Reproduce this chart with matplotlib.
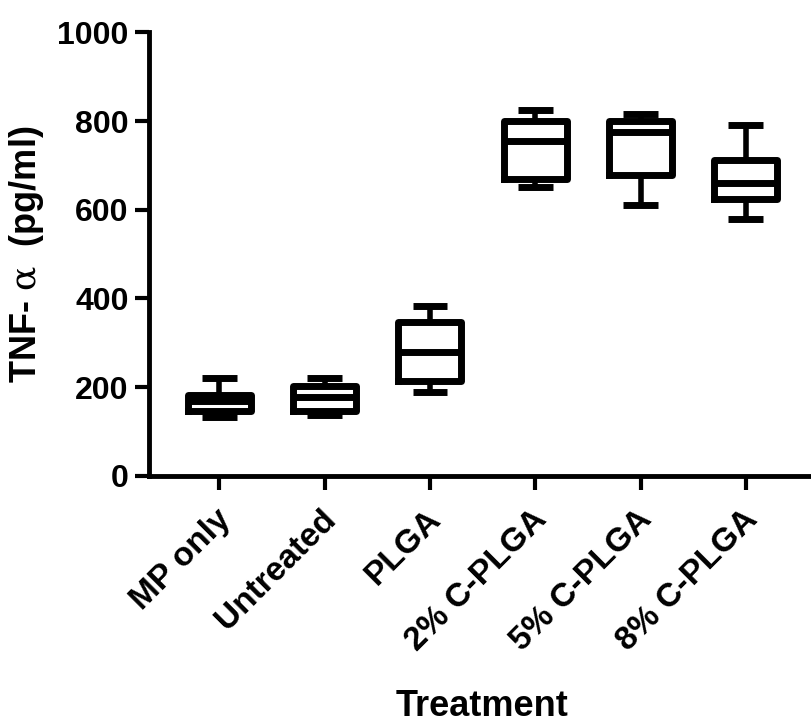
import matplotlib
matplotlib.use("Agg")
import matplotlib.pyplot as plt
from matplotlib import transforms

plt.rcParams['font.family'] = ['Liberation Sans', 'DejaVu Sans']
plt.rcParams['font.weight'] = 'bold'
plt.rcParams['mathtext.fontset'] = 'custom'
plt.rcParams['mathtext.rm'] = 'DejaVu Serif:normal'
plt.rcParams['mathtext.it'] = 'DejaVu Serif:italic'

# TNF-alpha box summaries per treatment group (pg/ml)
groups = ["MP only", "Untreated", "PLGA", "2% C-PLGA", "5% C-PLGA", "8% C-PLGA"]
whisker_low = [133, 137, 188, 652, 610, 580]
q1 = [147, 147, 214, 669, 679, 624]
median = [169, 177, 278, 756, 776, 661]
q3 = [182, 203, 347, 801, 800, 712]
whisker_high = [220, 220, 383, 825, 816, 792]

yticks = [0, 200, 400, 600, 800, 1000]

stats = []
for i, name in enumerate(groups):
    stats.append(dict(label=name, whislo=whisker_low[i], q1=q1[i], med=median[i],
                      q3=q3[i], whishi=whisker_high[i], fliers=[]))

fig = plt.figure(figsize=(8.11, 7.25), dpi=100)
ax = fig.add_axes([0.1843, 0.3439, 0.8157, 0.6115])

lw = 5.0
ax.bxp(stats, positions=range(len(groups)), widths=0.6, capwidths=0.33,
       showfliers=False,
       boxprops=dict(color='black', linewidth=lw, solid_joinstyle='round'),
       medianprops=dict(color='black', linewidth=lw, solid_capstyle='butt'),
       whiskerprops=dict(color='black', linewidth=4.0, solid_capstyle='butt'),
       capprops=dict(color='black', linewidth=lw, solid_capstyle='butt'))

ax.set_xlim(-0.663, 5.619)
ax.set_ylim(0, 1000)
ax.set_yticks(yticks)
ax.set_yticklabels([str(v) for v in yticks])

for side in ['top', 'right']:
    ax.spines[side].set_visible(False)
for side in ['left', 'bottom']:
    ax.spines[side].set_linewidth(3.5)

ax.tick_params(axis='both', width=3.0, length=10, pad=5)
ax.tick_params(axis='y', labelsize=23)
ax.set_xticks(range(len(groups)))
ax.set_xticklabels(groups, rotation=45, ha='right', rotation_mode='anchor', fontsize=24)
# nudge the slanted category names so their ends sit under the ticks
offset = transforms.ScaledTranslation(-3 / 72, -5 / 72, fig.dpi_scale_trans)
for lbl in ax.get_xticklabels():
    lbl.set_transform(lbl.get_transform() + offset)
    lbl.set_fontweight('bold')
for lbl in ax.get_yticklabels():
    lbl.set_fontweight('bold')

ax.set_ylabel(r"TNF- $\mathrm{\alpha}$  (pg/ml)", fontsize=26, fontweight='bold', labelpad=8)
fig.text(0.594, 0.002, "Treatment", fontsize=26, fontweight='bold', ha='center', va='bottom')

fig.savefig("out.png", dpi=100)
